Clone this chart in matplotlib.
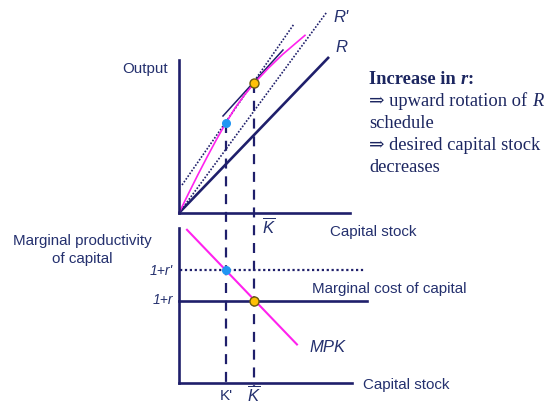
import matplotlib
matplotlib.use("Agg")
import matplotlib.pyplot as plt

# ---------------- data ----------------
# production function (top panel): capital stock vs output
K_curve = [0, 1, 2, 3, 4, 5, 6, 7, 8, 9.5, 11, 13.4]
output_curve = [0, 2.05, 4.05, 5.98, 7.84, 9.6, 11.22, 12.6, 13.8, 15.4, 16.85, 18.9]

# R schedule and rotated R' schedule
R_K = [0, 15.96]
R_out = [0, 16.6]
Rp_K = [0, 15.74]
Rp_out = [0, 21.4]

# tangent lines
tan_blue_K = [0.32, 12.23]
tan_blue_out = [2.98, 20.1]
tan_yellow_K = [4.68, 11.06]
tan_yellow_out = [10.32, 17.34]

K_prime = 5.0
K_bar = 8.0
out_at_Kprime = 9.6
out_at_Kbar = 13.8

# bottom panel: MPK and marginal cost of capital
mpk_K = [0.85, 12.55]
mpk_vals = [16.3, 4.1]
cost_r = 8.7        # 1+r
cost_rp = 12.0      # 1+r'
cost_K_end = 20.0

# ---------------- styling ----------------
W, H = 546, 403
NAVY = "#1f1f6b"
TXT = "#24306e"
MAG = "#ff22ee"
SCALE = 9.4  # px per unit

plt.rcParams["mathtext.fontset"] = "custom"
plt.rcParams["mathtext.it"] = "Liberation Sans:italic"
plt.rcParams["mathtext.rm"] = "Liberation Sans"

fig = plt.figure(figsize=(W / 100, H / 100), dpi=100)
fig.patch.set_facecolor("white")


def make_axes(ox, oy, xmax, ymax):
    ax = fig.add_axes([ox / W, (H - oy) / H, xmax * SCALE / W, ymax * SCALE / H])
    ax.set_xlim(0, xmax)
    ax.set_ylim(0, ymax)
    ax.set_xticks([])
    ax.set_yticks([])
    for s in ["top", "right"]:
        ax.spines[s].set_visible(False)
    for s in ["left", "bottom"]:
        ax.spines[s].set_color(NAVY)
        ax.spines[s].set_linewidth(1.9)
    ax.patch.set_alpha(0)
    return ax


ax1 = make_axes(179, 213, 18.2, 16.3)
ax2 = make_axes(179, 383, 18.4, 16.5)

# top panel
ax1.plot(R_K, R_out, color=NAVY, lw=1.9, clip_on=False, solid_capstyle="butt")
ax1.plot(Rp_K, Rp_out, color=NAVY, lw=1.2, ls=(0, (1, 1)), clip_on=False)
ax1.plot(tan_blue_K, tan_blue_out, color=NAVY, lw=1.2, ls=(0, (1, 1)), clip_on=False)
ax1.plot(tan_yellow_K, tan_yellow_out, color=NAVY, lw=1.1, clip_on=False)
ax1.plot(K_curve, output_curve, color=MAG, lw=1.2, clip_on=False)

bottom_in_ax1 = (213 - 386) / SCALE
ax1.plot([K_prime, K_prime], [out_at_Kprime, bottom_in_ax1], color=NAVY, lw=1.6,
         ls=(0, (4.5, 3.5)), clip_on=False, zorder=1)
ax1.plot([K_bar, K_bar], [out_at_Kbar, bottom_in_ax1], color=NAVY, lw=1.6,
         ls=(0, (4.5, 3.5)), clip_on=False, zorder=1)

ax1.plot([K_prime], [out_at_Kprime], "o", color="#2196f3", ms=5.5, mec="#2196f3",
         clip_on=False, zorder=5)
ax1.plot([K_bar], [out_at_Kbar], "o", color="#ffc107", ms=6.5, mec="#6b5a10", mew=1,
         clip_on=False, zorder=5)

# bottom panel
ax2.plot([0, cost_K_end], [cost_r, cost_r], color=NAVY, lw=1.9, clip_on=False)
ax2.plot([0.1, cost_K_end - 0.2], [cost_rp, cost_rp], color=NAVY, lw=1.6,
         ls=(0, (1, 1.2)), clip_on=False)
ax2.plot(mpk_K, mpk_vals, color=MAG, lw=1.5, clip_on=False)
ax2.plot([K_prime], [cost_rp], "o", color="#2196f3", ms=5.5, mec="#2196f3",
         clip_on=False, zorder=5)
ax2.plot([K_bar], [cost_r], "o", color="#ffc107", ms=6.5, mec="#6b5a10", mew=1,
         clip_on=False, zorder=5)


# ---------------- text ----------------
def ftxt(x, y, s, **kw):
    kw.setdefault("color", TXT)
    kw.setdefault("family", ["Liberation Sans", "DejaVu Sans"])
    kw.setdefault("va", "center")
    return fig.text(x / W, 1 - y / H, s, **kw)


SFS = 10.9
ftxt(122, 69, "Output", fontsize=SFS)
ftxt(333, 17, "R'", fontsize=12, style="italic")
ftxt(335, 48, "R", fontsize=12, style="italic")
ftxt(262, 226, r"$\overline{K}$", fontsize=12)
ftxt(330, 232, "Capital stock", fontsize=SFS)
ftxt(82, 241, "Marginal productivity", fontsize=SFS, ha="center")
ftxt(82, 259, "of capital", fontsize=SFS, ha="center")
ftxt(173, 271, "1+r'", fontsize=10, style="italic", ha="right")
ftxt(173, 300, "1+r", fontsize=10, style="italic", ha="right")
ftxt(312, 289, "Marginal cost of capital", fontsize=SFS)
ftxt(309, 348, "MPK", fontsize=12, style="italic")
ftxt(363, 385, "Capital stock", fontsize=SFS)
ftxt(226, 396, "K'", fontsize=SFS, ha="center")
ftxt(254, 401.5, r"$\overline{K}$", fontsize=12, ha="center", va="baseline")

SERIF = ["Liberation Serif", "DejaVu Serif"]
BLOCK = "#1c2660"
FS = 13.3
fig.canvas.draw()
renderer = fig.canvas.get_renderer()


def runs(x, y, parts):
    cx = x
    for s, kw in parts:
        t = fig.text(cx / W, 1 - y / H, s, family=SERIF, fontsize=FS, color=BLOCK,
                     va="center", **kw)
        bb = t.get_window_extent(renderer=renderer)
        cx += bb.width


runs(369, 80, [("Increase in ", {"weight": "bold"}),
               ("r", {"weight": "bold", "style": "italic"}),
               (":", {"weight": "bold"})])
runs(369, 101, [("\u21d2 upward rotation of ", {}), ("R", {"style": "italic"})])
runs(369, 124, [("schedule", {})])
runs(369, 146, [("\u21d2 desired capital stock", {})])
runs(369, 168, [("decreases", {})])

fig.savefig("out.png", dpi=100, facecolor="white")
